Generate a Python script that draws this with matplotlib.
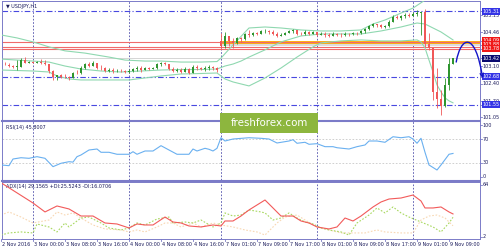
import numpy as np
import matplotlib.pyplot as plt
from matplotlib.patches import Rectangle, FancyArrowPatch
from matplotlib.path import Path

# USDJPY H1, 2 Nov 16:00 .. 9 Nov 10:00 (bar index 0..113)
o = [103.20, 103.17, 103.15, 103.10, 103.08, 103.09, 103.36, 103.25, 103.28, 103.24,
     103.27, 103.22, 103.18, 102.92, 102.66, 102.74, 102.68, 102.66, 102.62, 102.84,
     102.82, 103.05, 103.18, 103.12, 103.22, 103.04, 103.02, 102.92, 102.95, 102.90,
     102.93, 102.90, 102.88, 102.92, 102.98, 103.02, 102.96, 103.03, 103.00, 103.02,
     103.18, 103.24, 103.20, 103.00, 102.90, 102.94, 102.88, 102.98, 102.84, 103.08,
     103.04, 103.00, 103.04, 103.08, 103.02, 104.10, 103.90, 104.30, 104.12, 104.02,
     104.24, 104.20, 104.38, 104.34, 104.42, 104.40, 104.50, 104.52, 104.46, 104.38,
     104.32, 104.36, 104.44, 104.50, 104.54, 104.40, 104.38, 104.48, 104.40, 104.46,
     104.36, 104.40, 104.34, 104.32, 104.38, 104.36, 104.34, 104.40, 104.38, 104.44,
     104.42, 104.52, 104.60, 104.72, 104.80, 104.74, 104.66, 104.70, 104.90, 105.10,
     105.06, 105.12, 105.16, 105.14, 105.22, 105.24, 105.28, 104.00, 103.84, 102.05,
     101.80, 101.50, 102.35, 103.20]
h = [103.27, 103.26, 103.22, 103.16, 103.35, 103.43, 103.46, 103.33, 103.30, 103.32,
     103.40, 103.36, 103.20, 102.96, 102.76, 102.77, 102.79, 102.72, 102.88, 102.94,
     103.10, 103.22, 103.26, 103.30, 103.23, 103.15, 103.08, 103.02, 103.02, 103.00,
     102.99, 102.96, 102.98, 103.03, 103.10, 103.12, 103.06, 103.08, 103.06, 103.22,
     103.28, 103.27, 103.20, 103.06, 103.02, 103.04, 103.06, 103.03, 103.14, 103.15,
     103.08, 103.10, 103.14, 103.11, 103.07, 104.45, 104.48, 104.32, 104.24, 104.28,
     104.28, 104.44, 104.56, 104.48, 104.48, 104.56, 104.60, 104.54, 104.56, 104.48,
     104.44, 104.48, 104.56, 104.60, 104.56, 104.48, 104.56, 104.50, 104.52, 104.48,
     104.48, 104.48, 104.44, 104.48, 104.44, 104.44, 104.48, 104.44, 104.48, 104.48,
     104.56, 104.64, 104.76, 104.84, 104.82, 104.80, 104.76, 104.96, 105.16, 105.16,
     105.16, 105.24, 105.24, 105.28, 105.36, 105.30, 105.40, 104.44, 103.84, 103.03,
     102.15, 102.63, 103.43, 103.45]
l = [103.11, 103.14, 103.06, 103.03, 102.95, 103.08, 103.22, 103.22, 103.22, 103.22,
     103.20, 103.14, 102.83, 102.55, 102.56, 102.63, 102.63, 102.55, 102.62, 102.78,
     102.80, 103.00, 103.06, 103.10, 102.98, 102.96, 102.86, 102.86, 102.82, 102.86,
     102.87, 102.83, 102.82, 102.85, 102.92, 102.88, 102.94, 102.95, 102.98, 103.00,
     103.12, 103.14, 102.96, 102.86, 102.86, 102.84, 102.86, 102.78, 102.84, 102.96,
     102.96, 102.92, 102.96, 102.95, 102.87, 103.80, 103.84, 103.90, 103.84, 104.00,
     104.08, 104.16, 104.28, 104.32, 104.36, 104.38, 104.44, 104.40, 104.36, 104.28,
     104.30, 104.34, 104.42, 104.44, 104.36, 104.36, 104.36, 104.36, 104.38, 104.32,
     104.34, 104.28, 104.28, 104.30, 104.32, 104.28, 104.32, 104.32, 104.36, 104.36,
     104.40, 104.44, 104.56, 104.68, 104.68, 104.64, 104.62, 104.68, 104.88, 105.00,
     104.96, 105.04, 105.08, 105.12, 105.12, 104.36, 103.88, 103.76, 101.75, 101.42,
     101.14, 101.48, 102.15, 103.18]
c = [103.17, 103.15, 103.10, 103.08, 103.09, 103.36, 103.25, 103.28, 103.24, 103.27,
     103.22, 103.18, 102.92, 102.66, 102.74, 102.68, 102.66, 102.62, 102.84, 102.82,
     103.05, 103.18, 103.12, 103.22, 103.04, 103.02, 102.92, 102.95, 102.90, 102.93,
     102.90, 102.88, 102.92, 102.98, 103.02, 102.96, 103.03, 103.00, 103.02, 103.18,
     103.24, 103.20, 103.00, 102.90, 102.94, 102.88, 102.98, 102.84, 103.08, 103.04,
     103.00, 103.04, 103.08, 103.02, 102.96, 103.90, 104.30, 104.12, 104.02, 104.24,
     104.20, 104.38, 104.34, 104.42, 104.40, 104.50, 104.52, 104.46, 104.38, 104.32,
     104.36, 104.44, 104.50, 104.54, 104.40, 104.38, 104.48, 104.40, 104.46, 104.36,
     104.40, 104.34, 104.32, 104.38, 104.36, 104.34, 104.40, 104.38, 104.44, 104.42,
     104.52, 104.60, 104.72, 104.80, 104.74, 104.66, 104.70, 104.90, 105.10, 105.06,
     105.12, 105.16, 105.14, 105.22, 105.24, 105.28, 104.00, 103.84, 102.05, 101.80,
     101.50, 102.35, 103.20, 103.42]

# bollinger bands, read at sparse bars
bb_up_x = [0, 4, 8, 12, 16, 21, 27, 31, 36, 40, 45, 50, 54, 55, 58, 62, 66, 70, 75, 80, 85, 90, 93, 96, 100, 103, 106, 109]
bb_up = [104.36, 104.24, 104.08, 103.88, 103.72, 103.63, 103.47, 103.35, 103.31, 103.31, 103.27, 103.27, 103.29, 103.43,
         103.96, 104.64, 104.68, 104.64, 104.56, 104.52, 104.52, 104.56, 104.80, 104.96, 105.24, 105.44, 105.76, 106.6]
bb_mid_x = [0, 8, 12, 16, 20, 25, 30, 35, 40, 45, 50, 54, 56, 58, 60, 62, 66, 70, 75, 80, 85, 90, 95, 100, 104, 106, 108, 110, 113]
bb_mid = [103.39, 103.31, 103.27, 103.11, 102.99, 102.91, 102.87, 102.91, 102.95, 102.97, 102.97, 102.99, 103.11, 103.19,
          103.31, 103.47, 103.76, 104.08, 104.32, 104.40, 104.40, 104.40, 104.52, 104.68, 104.84, 104.80, 104.64, 104.48, 104.16]
bb_lo_x = [0, 8, 12, 14, 17, 20, 28, 32, 36, 40, 45, 50, 54, 55, 56, 58, 60, 62, 66, 70, 74, 78, 80, 85, 90, 95, 100, 104,
           105, 106, 107, 108, 109, 110, 111, 112, 113]
bb_lo = [102.95, 102.91, 102.87, 102.71, 102.59, 102.55, 102.55, 102.55, 102.63, 102.71, 102.79, 102.81, 102.83, 102.71,
         102.59, 102.47, 102.39, 102.31, 102.63, 103.03, 103.47, 103.88, 104.04, 104.12, 104.16, 104.12, 104.12, 104.16,
         104.08, 103.84, 103.35, 102.87, 102.35, 102.07, 101.83, 101.71, 101.63]

levels_red = [104.09, 103.88, 103.78]
levels_blue = [105.31, 102.68, 101.55]
bid = 103.42
price_ticks = [105.15, 104.46, 103.10, 102.40, 101.70, 101.05]

rsi_x = [0, 2, 3, 5, 7, 9, 11, 13, 15, 17, 18, 19, 20, 22, 24, 25, 27, 29, 32, 33, 34, 36, 38, 40, 42, 44, 47, 48, 49, 51,
         52, 53, 54, 55, 56, 58, 62, 65, 67, 69, 72, 73, 74, 76, 77, 79, 81, 83, 84, 87, 89, 91, 92, 94, 96, 98, 100, 102,
         103, 104, 105, 106, 107, 109, 110, 112, 113]
rsi = [26.1, 24.9, 36.3, 38.5, 37.5, 40.3, 37.5, 23.2, 29.0, 31.7, 31.0, 40.3, 43.2, 51.7, 53.4, 47.8, 47.8, 44.4, 44.4,
       48.8, 44.4, 50.0, 50.0, 59.1, 51.7, 44.4, 44.4, 53.4, 50.0, 54.6, 52.9, 50.0, 54.6, 72.7, 67.1, 70.5, 72.7, 71.7,
       70.5, 63.7, 67.1, 69.3, 63.2, 64.9, 61.5, 62.5, 57.4, 57.4, 55.6, 53.4, 57.4, 60.3, 67.1, 67.1, 64.9, 74.4, 72.7,
       74.4, 70.5, 63.2, 71.7, 47.8, 26.1, 17.5, 26.1, 44.4, 45.8]

adx_x = [0, 8, 11, 14, 17, 20, 23, 26, 29, 32, 34, 36, 38, 41, 43, 45, 47, 50, 53, 55, 56, 58, 60, 62, 64, 66, 68, 70, 73,
         75, 77, 79, 82, 84, 86, 88, 90, 93, 95, 97, 100, 102, 103, 105, 106, 108, 110, 112, 113]
adx = [63.7, 41.3, 31.4, 38.0, 34.7, 26.9, 26.9, 19.2, 18.1, 13.7, 18.1, 17.0, 17.0, 25.8, 20.3, 19.2, 15.9, 14.8, 17.0,
       15.9, 21.4, 21.4, 26.9, 33.6, 39.1, 44.6, 35.8, 26.9, 26.9, 21.4, 19.2, 14.8, 12.6, 14.8, 24.7, 21.4, 26.9, 36.9,
       42.4, 45.7, 46.8, 49.0, 50.1, 43.5, 35.8, 35.8, 36.9, 31.4, 29.2]
pdi_x = [0, 2, 5, 8, 9, 12, 14, 16, 17, 20, 22, 25, 27, 30, 32, 34, 36, 39, 42, 43, 46, 48, 50, 53, 55, 56, 58, 60, 62, 65,
         66, 68, 70, 72, 74, 76, 78, 80, 82, 85, 87, 89, 92, 94, 96, 98, 100, 102, 105, 108, 110, 112, 113]
pdi = [5.9, 8.2, 9.3, 8.2, 18.1, 14.8, 9.3, 19.2, 14.8, 24.7, 25.8, 19.2, 13.7, 11.5, 13.7, 19.2, 17.0, 23.6, 25.8, 19.2,
       20.3, 19.2, 22.5, 14.8, 19.2, 30.3, 26.9, 28.0, 33.6, 31.4, 30.3, 22.5, 24.7, 30.3, 24.7, 20.3, 18.1, 13.7, 11.5,
       9.3, 5.9, 19.2, 28.0, 35.8, 30.3, 36.9, 30.3, 25.8, 20.3, 14.8, 9.3, 19.2, 25.5]
mdi_x = [0, 2, 5, 8, 12, 14, 16, 18, 20, 23, 26, 30, 32, 34, 36, 39, 41, 43, 45, 48, 50, 53, 55, 58, 61, 64, 66, 69, 71,
         74, 76, 79, 82, 85, 88, 91, 94, 96, 100, 103, 105, 107, 109, 111, 113]
mdi = [28.0, 31.4, 25.8, 19.2, 22.5, 31.4, 28.0, 30.3, 24.7, 17.0, 12.6, 11.5, 9.3, 11.5, 9.3, 14.8, 19.2, 19.2, 14.8,
       19.2, 14.8, 19.2, 17.0, 14.8, 11.5, 9.3, 5.9, 19.2, 25.8, 28.0, 22.5, 14.8, 11.5, 8.2, 8.2, 8.2, 11.5, 9.3, 8.2,
       8.2, 22.5, 26.9, 28.0, 24.7, 16.1]

day_lines = [8, 32, 55, 79, 103]
time_pos = [0, 8, 16, 24, 32, 40, 48, 56, 64, 72, 80, 88, 96, 104, 112]
time_labels = ['2 Nov 2016', '3 Nov 00:00', '3 Nov 08:00', '3 Nov 16:00', '4 Nov 00:00', '4 Nov 08:00',
               '4 Nov 16:00', '7 Nov 01:00', '7 Nov 09:00', '7 Nov 17:00', '8 Nov 01:00', '8 Nov 09:00',
               '8 Nov 17:00', '9 Nov 01:00', '9 Nov 09:00']

W, H = 500, 250
frame = '#7b7bc8'
txt = '#1c1c5c'
fs = 3.5

fig = plt.figure(figsize=(5, 2.5), dpi=100)


def pane(top, bottom):
    ax = fig.add_axes([2 / W, (H - bottom) / H, 478 / W, (bottom - top) / H])
    ax.set_xlim(0.25, 119.75)
    ax.set_xticks([])
    ax.set_yticks([])
    for s in ax.spines.values():
        s.set_color(frame)
        s.set_linewidth(0.7)
    for d in day_lines:
        ax.axvline(d, color='#4a4aa8', lw=0.6, ls=(0, (2, 2)), zorder=1)
    return ax


def ylab(ax, y, s, bg=None, fg=txt):
    kw = {}
    if bg:
        kw['bbox'] = dict(boxstyle='square,pad=0.2', fc=bg, ec='none')
        fg = 'white'
    ax.text(1.006, y, s, transform=ax.get_yaxis_transform(), fontsize=fs, color=fg,
            va='center', ha='left', clip_on=False, **kw)
    ax.plot([1.0, 1.005], [y, y], transform=ax.get_yaxis_transform(), color=frame, lw=0.6, clip_on=False)


# main price pane
ax = pane(1, 120)
ax.set_ylim(100.94, 105.725)

ax.add_patch(Rectangle((55.2, 103.90), 70, 0.13, fc='#dcdcdc', ec='none', zorder=1))
ax.add_patch(Rectangle((55.2, 104.03), 70, 0.10, fc='#ffe81a', ec='#ffa500', lw=0.6, zorder=2))
for lv in levels_red:
    ax.axhline(lv, color='#f06a6a', lw=0.8, zorder=2)
for lv in levels_blue:
    ax.axhline(lv, color='#4848e0', lw=0.8, ls=(0, (5, 2, 1, 2)), zorder=2)
ax.axhline(bid, color='#cfcfcf', lw=0.6, zorder=1)

bb_col = '#8fd8b0'
ax.plot(bb_up_x, bb_up, color=bb_col, lw=0.8, zorder=3)
ax.plot(bb_mid_x, bb_mid, color=bb_col, lw=0.8, zorder=3)
ax.plot(bb_lo_x, bb_lo, color=bb_col, lw=0.8, zorder=3)

idx = np.arange(len(c))
oa, ha, la, ca = map(np.array, (o, h, l, c))
col = np.where(ca > oa + 0.005, '#2f952f', np.where(ca < oa - 0.005, '#f05858', '#202020'))
ax.vlines(idx, la, ha, colors=col, lw=0.6, zorder=4)
body = np.maximum(np.abs(ca - oa), 0.02)
ax.bar(idx, body, bottom=np.minimum(oa, ca), width=0.55, color=col, lw=0, zorder=5)

# forecast arrow
arr = Path([(113.8, 103.27), (115.0, 104.35), (118.6, 104.5), (120.4, 102.62)],
           [Path.MOVETO, Path.CURVE4, Path.CURVE4, Path.CURVE4])
ax.add_patch(FancyArrowPatch(path=arr, arrowstyle='->', mutation_scale=6, color='#1414c8',
                             lw=1.0, transform=ax.transData, clip_on=False, zorder=6))

for p in price_ticks:
    ylab(ax, p, f'{p:.2f}')
for p in levels_blue:
    ylab(ax, p, f'{p:.2f}', bg='#3434e6')
for p, y in zip(levels_red, [104.13, 103.96, 103.80]):
    ylab(ax, y, f'{p:.2f}', bg='#f01818')
ylab(ax, bid, f'{bid:.2f}', bg='#0a0a70')
ax.text(0.008, 0.975, '\u25bc USDJPY,H1', transform=ax.transAxes, fontsize=fs, color=txt, va='top', ha='left')

# RSI pane
ax2 = pane(121, 180)
ax2.set_ylim(0.4, 101.3)
ax2.axhline(70, color='#c8c8c8', lw=0.6, ls=(0, (2, 2)))
ax2.axhline(30, color='#c8c8c8', lw=0.6, ls=(0, (2, 2)))
ax2.plot(rsi_x, rsi, color='#6ab0f0', lw=0.8, zorder=3)
for y, s in [(94.4, '100'), (70, '70'), (30, '30'), (6.1, '0')]:
    ylab(ax2, y, s)
ax2.text(0.008, 0.93, 'RSI(14) 45.8007', transform=ax2.transAxes, fontsize=fs, color=txt, va='top', ha='left')

# ADX pane
ax3 = pane(182, 239)
ax3.set_ylim(1.5, 64.5)
ax3.plot(mdi_x, mdi, color='#f8d8b4', lw=0.8, ls=(0, (1.5, 1.5)), zorder=2)
ax3.plot(pdi_x, pdi, color='#a8d860', lw=0.8, ls=(0, (1.5, 1.5)), zorder=3)
ax3.plot(adx_x, adx, color='#f25a5a', lw=0.8, zorder=4)
ylab(ax3, 61.2, '64')
ylab(ax3, 4.1, '2')
ax3.text(0.008, 0.96, 'ADX(14) 29.1565 +DI:25.5243 -DI:16.0706', transform=ax3.transAxes,
         fontsize=fs, color=txt, va='top', ha='left')

for p, s in zip(time_pos, time_labels):
    ax3.text(p + 0.3, -0.05, s, transform=ax3.get_xaxis_transform(), fontsize=fs, color=txt,
             va='top', ha='left', clip_on=False)
    ax3.plot([p, p], [-0.03, 0], transform=ax3.get_xaxis_transform(), color=frame, lw=0.6, clip_on=False)

# pane separators
for yy in [120.5, 181]:
    fig.add_artist(plt.Line2D([2 / W, 480 / W], [(H - yy) / H] * 2, color=frame, lw=1.5))

# watermark
fig.add_artist(Rectangle((220 / W, (H - 133) / H), 98 / W, 20 / H, fc='#8db63e', ec='none',
                         transform=fig.transFigure, zorder=10))
fig.text(269 / W, (H - 123) / H, 'freshforex.com', fontsize=7.4, color='white', ha='center',
         va='center', zorder=11)

fig.savefig('out.png', dpi=100, facecolor='white')
